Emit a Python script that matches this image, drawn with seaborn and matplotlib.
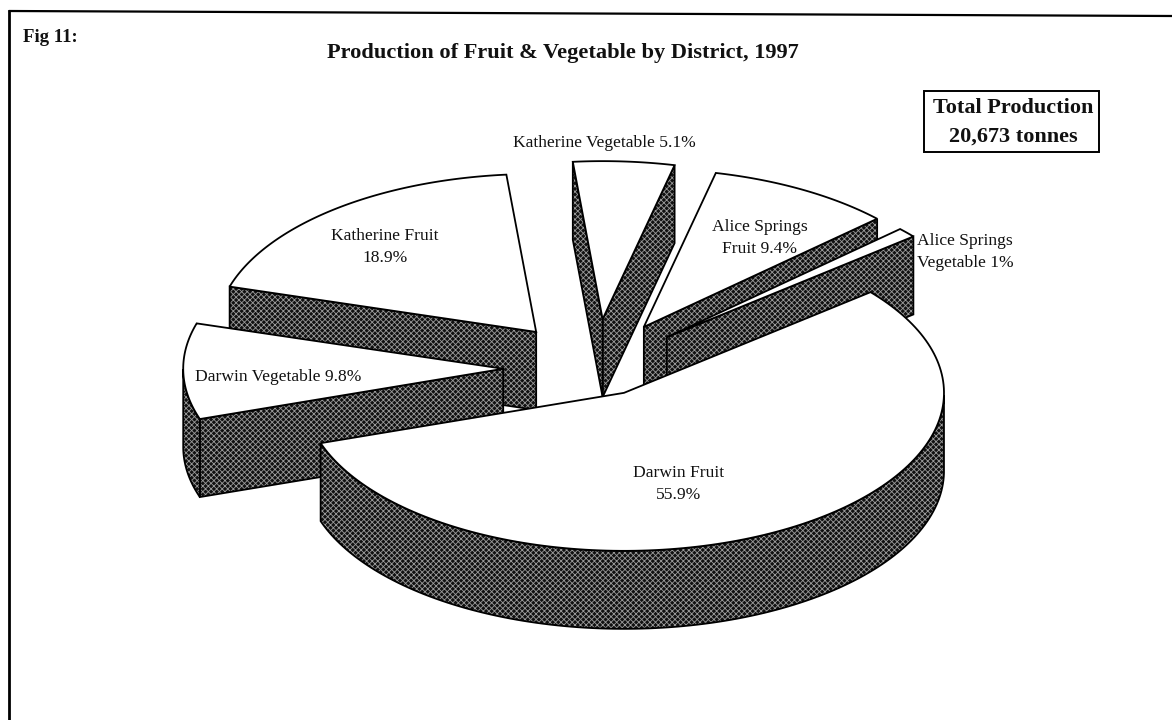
import matplotlib
matplotlib.use("Agg")
import matplotlib.pyplot as plt
import numpy as np
import seaborn as sns
from matplotlib.patches import Polygon, Rectangle

# clockwise from the upper right, drawn in the order listed in draw_order
districts = ["Darwin Fruit", "Darwin Vegetable", "Katherine Fruit",
             "Katherine Vegetable", "Alice Springs Fruit", "Alice Springs Vegetable"]
shares = [55.9, 9.8, 18.9, 5.1, 9.4, 1.0]
explode = [0.18, 0.29, 0.295, 0.31, 0.30, 0.295]
labels = ["Darwin Fruit\n55.9%", "Darwin Vegetable 9.8%", "Katherine Fruit\n18.9%",
          "Katherine Vegetable 5.1%", "Alice Springs\nFruit 9.4%", "Alice Springs\nVegetable 1%"]
label_xy = [(679, 484), (278, 377), (385, 247), (604, 143), (760, 238), (965, 252)]
draw_order = [2, 3, 4, 5, 1, 0]

TITLE = "Production of Fruit & Vegetable by District, 1997"
FIG_LABEL = "Fig 11:"
TOTAL_TEXT = "Total Production\n20,673 tonnes"

CX, CY = 596, 368
RX, RY = 320, 158
DEPTH = 78
START_ANGLE = 39.6

sns.set_theme(style="white", rc={"hatch.linewidth": 0.6})
plt.rcParams["font.family"] = ["Liberation Serif", "DejaVu Serif"]

fig, ax = plt.subplots(figsize=(11.72, 7.2), dpi=100)
ax.set_position([0, 0, 1, 1])
ax.set_xlim(0, 1172)
ax.set_ylim(720, 0)
ax.axis("off")


def wall(ax, pts):
    # dark dithered side of a slice
    ax.add_patch(Polygon(pts, closed=True, facecolor="#111111", edgecolor="#9a9a9a",
                         hatch="xxxxxx", lw=0))
    ax.add_patch(Polygon(pts, closed=True, fill=False, edgecolor="black", lw=1.3))


def draw_slice(ax, a0, a1, exp):
    mid = np.radians((a0 + a1) / 2)
    x0 = CX + exp * RX * np.cos(mid)
    y0 = CY - exp * RY * np.sin(mid)
    theta = np.radians(np.linspace(a0, a1, 160))
    xs = x0 + RX * np.cos(theta)
    ys = y0 - RY * np.sin(theta)
    top = np.column_stack([np.r_[x0, xs], np.r_[y0, ys]])
    inner = top.mean(axis=0)

    # cut faces, only the ones turned towards the viewer
    for i in (1, len(top) - 1):
        p, q = top[0], top[i]
        edge_y = p[1] + (inner[0] - p[0]) * (q[1] - p[1]) / (q[0] - p[0])
        if inner[1] < edge_y:
            wall(ax, [p, q, q + [0, DEPTH], p + [0, DEPTH]])

    # outer rim, front half only
    front = top[1:][np.sin(theta) < 0]
    if len(front) > 1:
        wall(ax, np.vstack([front, (front + [0, DEPTH])[::-1]]))

    ax.add_patch(Polygon(top, closed=True, facecolor="white", edgecolor="black", lw=1.3))


fractions = np.array(shares) / np.sum(shares)
ends = START_ANGLE - np.cumsum(fractions) * 360
starts = np.r_[START_ANGLE, ends[:-1]]

for i in draw_order:
    draw_slice(ax, ends[i], starts[i], explode[i])

for i, (x, y) in enumerate(label_xy):
    ax.text(x, y, labels[i], ha="center", va="center", fontsize=12.6, color="#111111",
            linespacing=1.42, zorder=5)

# frame
ax.plot([9, 9], [720, 11], color="black", lw=2, solid_capstyle="butt")
ax.plot([9, 1172], [11, 16], color="black", lw=1.6)

ax.text(23, 37, FIG_LABEL, fontsize=13.5, fontweight="bold", ha="left", va="center", color="#111111")
ax.text(562.5, 58, TITLE, fontsize=16.15, fontweight="bold", ha="center", va="baseline", color="#111111")

ax.add_patch(Rectangle((924, 91), 175, 61, fill=False, edgecolor="black", lw=1.4, zorder=4))
ax.text(1013, 122, TOTAL_TEXT, fontsize=16, fontweight="bold", ha="center", va="center",
        linespacing=1.58, color="#111111", zorder=5)

fig.savefig("out.png", dpi=100)
